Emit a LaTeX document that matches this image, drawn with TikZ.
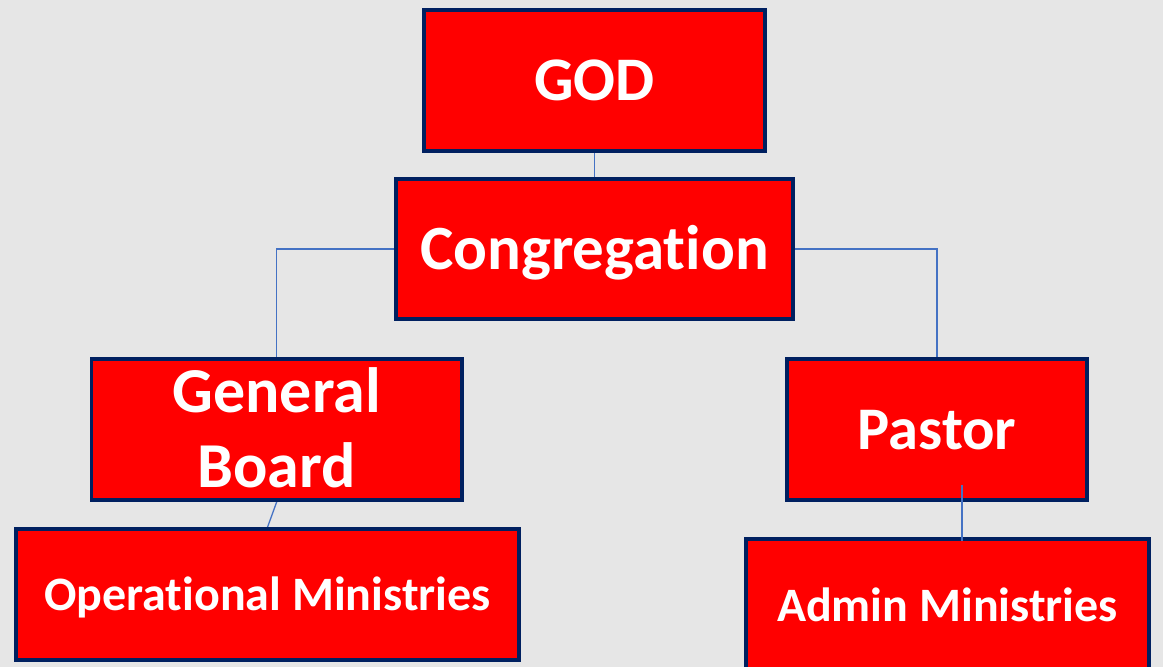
\documentclass[tikz,border=0pt]{standalone}
\usepackage{fontspec}
\setmainfont{Carlito}[Ligatures=NoCommon]
\usetikzlibrary{calc}
\definecolor{bggray}{HTML}{E6E6E6}
\definecolor{boxred}{HTML}{FF0000}
\definecolor{navy}{HTML}{002060}
\definecolor{linkblue}{HTML}{4472C4}
\pgfdeclarelayer{bglayer}
\pgfsetlayers{bglayer,main}
\tikzset{
  orgbox/.style={draw=navy, line width=3.5pt, fill=boxred, text=white,
    inner sep=0pt, align=center, text depth=0pt},
  link/.style={draw=linkblue, line width=1.3pt},
}
\begin{document}
\begin{tikzpicture}[x=1pt,y=-1pt]
\begin{pgfonlayer}{bglayer}
\fill[bggray] (0,0) rectangle (1163,667);
\end{pgfonlayer}
\useasboundingbox (0,0) rectangle (1163,667);

\node[orgbox, minimum width=341pt, minimum height=141pt, text height=40pt,
  font=\bfseries\fontsize{62}{74}\selectfont] (god) at (594.5,80.5) {GOD};
\node[orgbox, minimum width=397pt, minimum height=140pt, text height=40pt,
  font=\bfseries\fontsize{63}{74}\selectfont] (cong) at (594.5,249) {Congregation};
\node[orgbox, minimum width=370.5pt, minimum height=141pt, text height=116pt, text depth=0pt,
  font=\bfseries\fontsize{64}{75}\selectfont] (gb) at (276.75,429.5) {General\\Board};
\node[orgbox, minimum width=300pt, minimum height=141pt, text height=39pt,
  font=\bfseries\fontsize{60.5}{70}\selectfont] (pastor) at (937,429.5) {Pastor};
\node[orgbox, minimum width=503pt, minimum height=131pt, text height=31pt,
  font=\bfseries\fontsize{48}{58}\selectfont] (ops) at (267.5,594.5) {Operational Ministries};
\node[orgbox, minimum width=403pt, minimum height=133pt, text height=31pt,
  font=\bfseries\fontsize{48}{58}\selectfont] (admin) at (947.5,605.5) {Admin Ministries};

\begin{pgfonlayer}{bglayer}
\draw[link] (god.south) -- (cong.north);
\draw[link] (cong.west) -| (gb.north);
\draw[link] (cong.east) -| (pastor.north);
\draw[link] (gb.south) -- (ops.north);
\end{pgfonlayer}
\draw[link] ([xshift=25pt,yshift=17pt]pastor.south) -- ([xshift=14.5pt,yshift=-4pt]admin.north);
\end{tikzpicture}
\end{document}
